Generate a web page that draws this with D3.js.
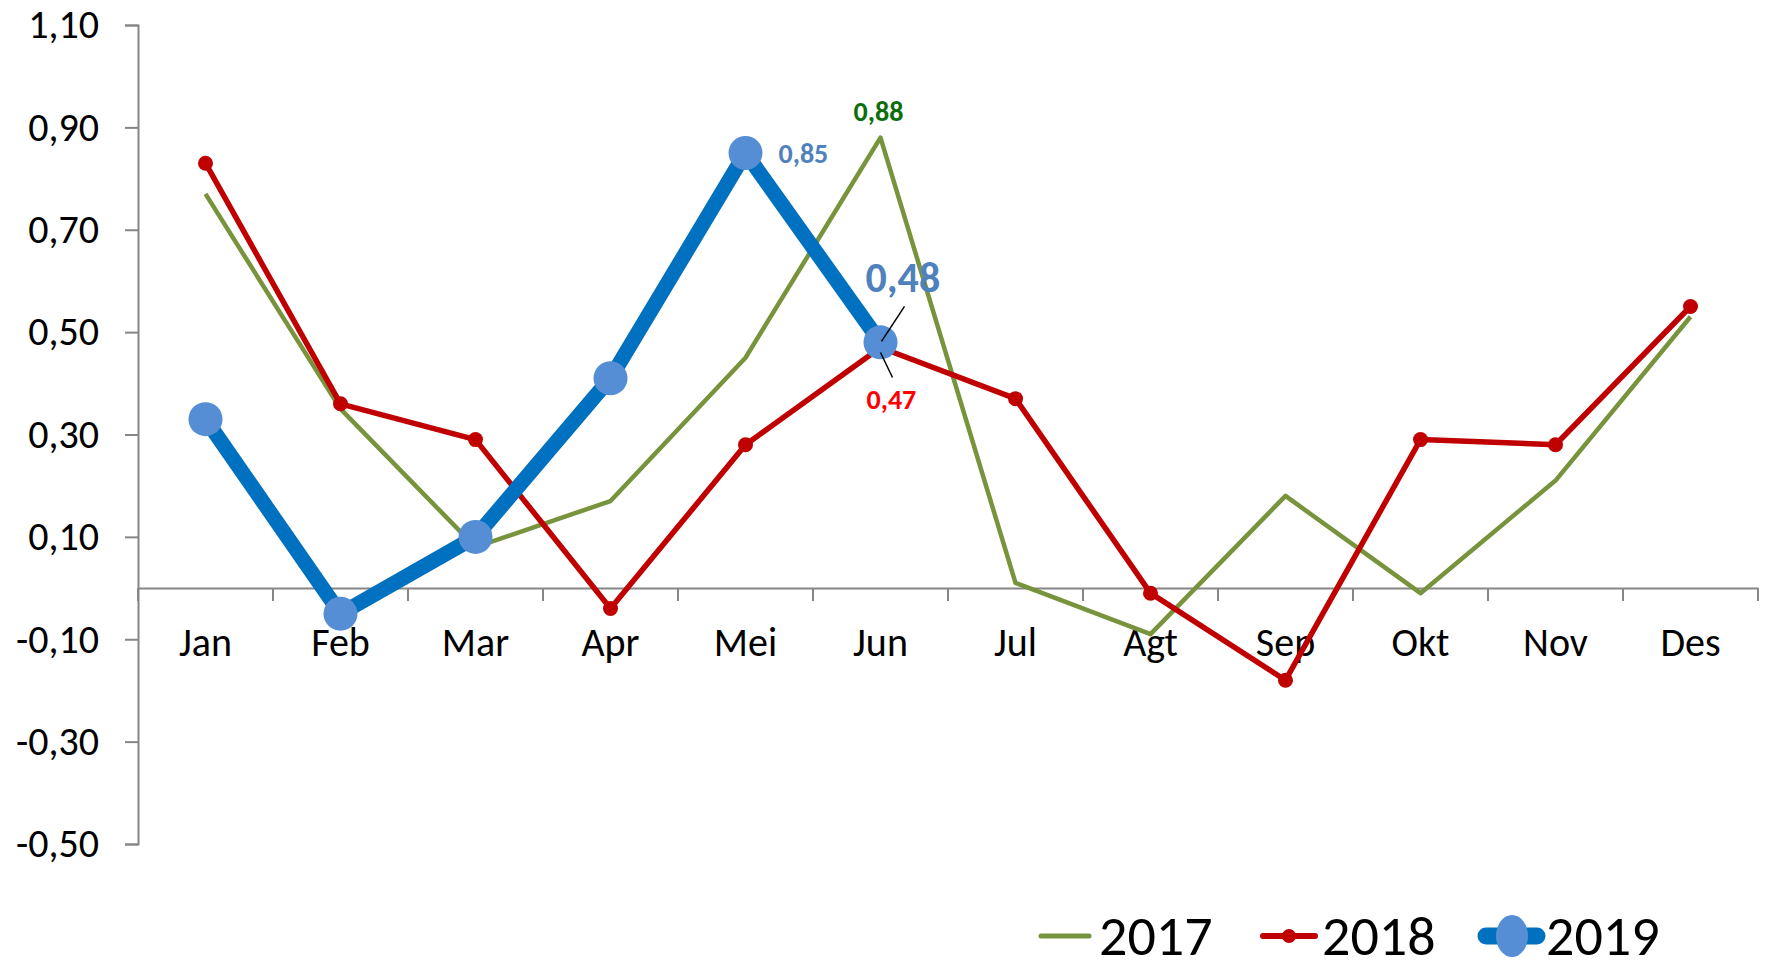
<!DOCTYPE html>
<html>
<head>
<meta charset="utf-8">
<script src="https://cdn.jsdelivr.net/npm/d3@7"></script>
<style>
  body { margin: 0; background: #fff; }
  svg text { font-family: Carlito, Calibri, Lato, sans-serif; }
</style>
</head>
<body>
<div id="chart"></div>
<script>
// data
var months = ["Jan", "Feb", "Mar", "Apr", "Mei", "Jun", "Jul", "Agt", "Sep", "Okt", "Nov", "Des"];
var values2017 = [0.77, 0.35, 0.08, 0.17, 0.45, 0.88, 0.01, -0.09, 0.18, -0.01, 0.21, 0.53];
var values2018 = [0.83, 0.36, 0.29, -0.04, 0.28, 0.47, 0.37, -0.01, -0.18, 0.29, 0.28, 0.55];
var values2019 = [0.33, -0.05, 0.10, 0.41, 0.85, 0.48];
var yTicks = [1.10, 0.90, 0.70, 0.50, 0.30, 0.10, -0.10, -0.30, -0.50];
var seriesNames = ["2017", "2018", "2019"];

var width = 1767, height = 970;
var plotLeft = 138, plotRight = 1758, plotTop = 25, plotBottom = 844;

var fmt = d3.formatLocale({decimal: ",", thousands: ".", grouping: [3], currency: ["", ""], minus: "-"}).format(".2f");

var svg = d3.select("#chart").append("svg")
    .attr("width", width)
    .attr("height", height);

var x = d3.scaleBand().domain(months).range([plotLeft, plotRight]);
var y = d3.scaleLinear().domain([-0.5, 1.1]).range([plotBottom, plotTop]);
var cx = function (d, i) { return x(months[i]) + x.bandwidth() / 2; };

// y axis
var yAxis = svg.append("g")
    .attr("transform", "translate(" + plotLeft + ",0)")
    .call(d3.axisLeft(y).tickValues(yTicks).tickSize(13).tickPadding(26).tickFormat(fmt));
yAxis.select(".domain").attr("stroke", "#868686").attr("stroke-width", 2);
yAxis.selectAll(".tick line").attr("stroke", "#868686").attr("stroke-width", 2);
yAxis.selectAll(".tick text").attr("font-size", 40).attr("fill", "#000");

// x axis on zero line
var xAxis = svg.append("g")
    .attr("transform", "translate(0," + y(0) + ")")
    .call(d3.axisBottom(x).tickSize(0).tickPadding(40));
xAxis.select(".domain").attr("stroke", "#868686").attr("stroke-width", 2);
xAxis.selectAll(".tick text").attr("font-size", 40).attr("fill", "#000");
xAxis.selectAll("line.sep")
    .data(d3.range(months.length + 1))
    .enter().append("line")
    .attr("class", "sep")
    .attr("x1", function (d) { return plotLeft + d * x.bandwidth(); })
    .attr("x2", function (d) { return plotLeft + d * x.bandwidth(); })
    .attr("y1", 0).attr("y2", 13)
    .attr("stroke", "#868686").attr("stroke-width", 2);

var line = d3.line().x(cx).y(function (d) { return y(d); });

// 2017
svg.append("path").datum(values2017)
    .attr("d", line).attr("fill", "none")
    .attr("stroke", "#77933C").attr("stroke-width", 4.5)
    .attr("stroke-linejoin", "round");

// 2018
svg.append("path").datum(values2018)
    .attr("d", line).attr("fill", "none")
    .attr("stroke", "#C00000").attr("stroke-width", 5.5)
    .attr("stroke-linejoin", "round");
svg.selectAll("circle.s18").data(values2018).enter().append("circle")
    .attr("class", "s18")
    .attr("cx", cx).attr("cy", function (d) { return y(d); })
    .attr("r", 7.5).attr("fill", "#C00000");

// 2019
svg.append("path").datum(values2019)
    .attr("d", line).attr("fill", "none")
    .attr("stroke", "#0070C0").attr("stroke-width", 15)
    .attr("stroke-linejoin", "round");
svg.selectAll("circle.s19").data(values2019).enter().append("circle")
    .attr("class", "s19")
    .attr("cx", cx).attr("cy", function (d) { return y(d); })
    .attr("r", 17).attr("fill", "#558ED5");

// data labels
var xJun = cx(null, 5), xMei = cx(null, 4);
svg.append("text")
    .attr("x", xJun - 2).attr("y", y(values2017[5]) - 17)
    .attr("text-anchor", "middle").attr("font-size", 28).attr("font-weight", "bold")
    .attr("fill", "#0B6E0B").text(fmt(values2017[5]));
svg.append("text")
    .attr("x", xMei + 33).attr("y", y(values2019[4]) + 10)
    .attr("font-size", 28).attr("font-weight", "bold")
    .attr("fill", "#4F81BD").text(fmt(values2019[4]));
svg.append("text")
    .attr("x", xJun - 15).attr("y", y(values2019[5]) - 50)
    .attr("font-size", 42).attr("font-weight", "bold")
    .attr("fill", "#4F81BD").text(fmt(values2019[5]));
svg.append("line")
    .attr("x1", xJun + 24).attr("y1", y(values2019[5]) - 36)
    .attr("x2", xJun + 1).attr("y2", y(values2019[5]) - 1)
    .attr("stroke", "#000").attr("stroke-width", 1.5);
svg.append("line")
    .attr("x1", xJun + 12).attr("y1", y(values2018[5]) + 30)
    .attr("x2", xJun).attr("y2", y(values2018[5]) + 5)
    .attr("stroke", "#000").attr("stroke-width", 1.5);
svg.append("text")
    .attr("x", xJun - 14).attr("y", y(values2018[5]) + 62)
    .attr("font-size", 28).attr("font-weight", "bold")
    .attr("fill", "#FF0000").text(fmt(values2018[5]));

// legend
var lg = svg.append("g").attr("transform", "translate(0,936)");
lg.append("line").attr("x1", 1041).attr("x2", 1089).attr("y1", 0).attr("y2", 0)
    .attr("stroke", "#77933C").attr("stroke-width", 5).attr("stroke-linecap", "round");
lg.append("line").attr("x1", 1263).attr("x2", 1315).attr("y1", 0).attr("y2", 0)
    .attr("stroke", "#C00000").attr("stroke-width", 6).attr("stroke-linecap", "round");
lg.append("circle").attr("cx", 1289).attr("cy", 0).attr("r", 7).attr("fill", "#C00000");
lg.append("line").attr("x1", 1486).attr("x2", 1537).attr("y1", 0).attr("y2", 0)
    .attr("stroke", "#0070C0").attr("stroke-width", 17).attr("stroke-linecap", "round");
lg.append("ellipse").attr("cx", 1512).attr("cy", 0).attr("rx", 16).attr("ry", 21).attr("fill", "#558ED5");
lg.selectAll("text.lbl").data(seriesNames).enter().append("text")
    .attr("class", "lbl")
    .attr("x", function (d, i) { return [1099, 1322, 1546][i]; })
    .attr("y", 19).attr("font-size", 56).attr("fill", "#000")
    .text(function (d) { return d; });
</script>
</body>
</html>
